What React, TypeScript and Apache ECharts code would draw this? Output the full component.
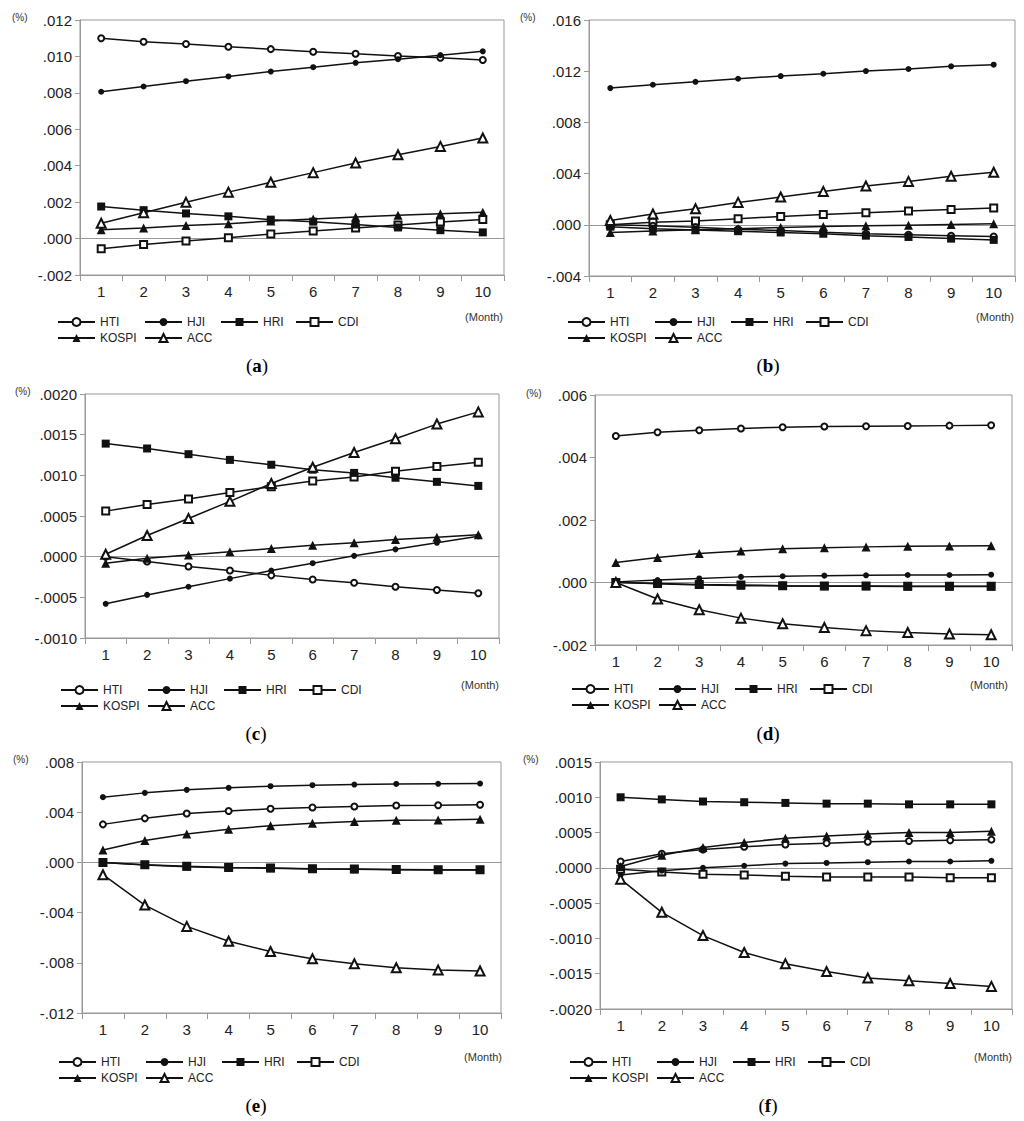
import React, { useEffect, useRef } from "react";
import * as echarts from "echarts";

const months = ["1", "2", "3", "4", "5", "6", "7", "8", "9", "10"];
const names = ["HTI", "HJI", "HRI", "CDI", "KOSPI", "ACC"];
const panelLetters = ["a", "b", "c", "d", "e", "f"];

// (a)
const aHTI = [0.011, 0.01081, 0.01068, 0.01053, 0.0104, 0.01026, 0.01015, 0.01002, 0.00993, 0.0098];
const aHJI = [0.00806, 0.00835, 0.00864, 0.0089, 0.00917, 0.00941, 0.00965, 0.00985, 0.01007, 0.01028];
const aHRI = [0.00176, 0.00156, 0.00138, 0.00122, 0.00104, 0.00093, 0.00077, 0.00061, 0.00046, 0.00034];
const aCDI = [-0.00056, -0.00033, -0.00014, 0.00004, 0.00025, 0.00042, 0.00058, 0.00074, 0.00091, 0.00105];
const aKOSPI = [0.00049, 0.00058, 0.00072, 0.00082, 0.00096, 0.00108, 0.00118, 0.00128, 0.00136, 0.00144];
const aACC = [0.00084, 0.00142, 0.00199, 0.00255, 0.00309, 0.00362, 0.00415, 0.0046, 0.00506, 0.00552];

// (b)
const bHTI = [0, -0.00008, -0.0002, -0.00035, -0.00045, -0.00058, -0.0007, -0.00078, -0.00085, -0.00092];
const bHJI = [0.01068, 0.01094, 0.01117, 0.01141, 0.01162, 0.0118, 0.01201, 0.01217, 0.01238, 0.01251];
const bHRI = [-0.00015, -0.0003, -0.0004, -0.0005, -0.0006, -0.0007, -0.00085, -0.00095, -0.00108, -0.00118];
const bCDI = [0, 0.0002, 0.0003, 0.00048, 0.00065, 0.0008, 0.00095, 0.00108, 0.0012, 0.00132];
const bKOSPI = [-0.0006, -0.00048, -0.00038, -0.0003, -0.00022, -0.00014, -0.00008, -0.00003, 0.00002, 0.00008];
const bACC = [0.00034, 0.00084, 0.00125, 0.00175, 0.00217, 0.00261, 0.00303, 0.00339, 0.00379, 0.0041];

// (c)
const cHTI = [0, -0.00006, -0.00012, -0.00017, -0.00023, -0.00028, -0.00032, -0.00037, -0.00041, -0.00045];
const cHJI = [-0.00058, -0.00047, -0.00037, -0.00027, -0.00017, -0.00008, 0.00001, 0.00009, 0.00017, 0.00025];
const cHRI = [0.00139, 0.00133, 0.00126, 0.00119, 0.00113, 0.00107, 0.00103, 0.00097, 0.00092, 0.00087];
const cCDI = [0.00056, 0.00064, 0.00071, 0.00079, 0.00086, 0.00093, 0.00098, 0.00105, 0.00111, 0.00116];
const cKOSPI = [-0.00008, -0.00002, 0.00002, 0.00006, 0.0001, 0.00014, 0.00017, 0.00021, 0.00024, 0.00027];
const cACC = [0.00003, 0.00026, 0.00047, 0.00068, 0.0009, 0.0011, 0.00128, 0.00145, 0.00163, 0.00178];

// (d)
const dHTI = [0.00469, 0.00481, 0.00487, 0.00493, 0.00497, 0.00499, 0.005, 0.00501, 0.00502, 0.00503];
const dHJI = [0.00002, 0.00008, 0.00013, 0.00018, 0.0002, 0.00022, 0.00023, 0.00024, 0.00024, 0.00025];
const dHRI = [0.00001, -0.00004, -0.00008, -0.0001, -0.00011, -0.00012, -0.00012, -0.00013, -0.00013, -0.00013];
const dCDI = [0, -0.00003, -0.00006, -0.00008, -0.0001, -0.00011, -0.00011, -0.00012, -0.00012, -0.00012];
const dKOSPI = [0.00064, 0.0008, 0.00093, 0.00101, 0.00108, 0.00111, 0.00114, 0.00116, 0.00117, 0.00118];
const dACC = [0, -0.00053, -0.00087, -0.00114, -0.00132, -0.00144, -0.00154, -0.0016, -0.00165, -0.00167];

// (e)
const eHTI = [0.00303, 0.00351, 0.0039, 0.00409, 0.00427, 0.00438, 0.00446, 0.00454, 0.00456, 0.00459];
const eHJI = [0.0052, 0.00554, 0.00578, 0.00594, 0.00607, 0.00615, 0.0062, 0.00625, 0.00626, 0.00628];
const eHRI = [0, -0.0002, -0.00034, -0.00042, -0.00047, -0.00052, -0.00055, -0.00058, -0.0006, -0.0006];
const eCDI = [0, -0.00018, -0.00031, -0.0004, -0.00045, -0.0005, -0.00053, -0.00056, -0.00058, -0.00059];
const eKOSPI = [0.00098, 0.00174, 0.00227, 0.00264, 0.00293, 0.00311, 0.00325, 0.00335, 0.00338, 0.00343];
const eACC = [-0.00098, -0.0034, -0.0051, -0.00628, -0.0071, -0.00768, -0.00807, -0.00839, -0.00858, -0.00865];

// (f)
const fHTI = [0.00009, 0.0002, 0.00026, 0.0003, 0.00033, 0.00035, 0.00037, 0.00038, 0.00039, 0.0004];
const fHJI = [-0.0001, -0.00004, 0, 0.00003, 0.00006, 0.00007, 0.00008, 0.00009, 0.00009, 0.0001];
const fHRI = [0.001, 0.00097, 0.00094, 0.00093, 0.00092, 0.00091, 0.00091, 0.0009, 0.0009, 0.0009];
const fCDI = [-0.00002, -0.00006, -0.00009, -0.0001, -0.00012, -0.00013, -0.00013, -0.00013, -0.00014, -0.00014];
const fKOSPI = [0.00002, 0.00018, 0.00029, 0.00036, 0.00042, 0.00045, 0.00048, 0.0005, 0.0005, 0.00052];
const fACC = [-0.00016, -0.00063, -0.00096, -0.0012, -0.00136, -0.00147, -0.00156, -0.0016, -0.00164, -0.00168];

const yMins = [-0.002, -0.004, -0.001, -0.002, -0.012, -0.002];
const yMaxs = [0.012, 0.016, 0.002, 0.006, 0.008, 0.0015];
const ySteps = [0.002, 0.004, 0.0005, 0.002, 0.004, 0.0005];
const yDigits = [3, 3, 4, 3, 3, 4];

const panelSeries = [
  [aHTI, aHJI, aHRI, aCDI, aKOSPI, aACC],
  [bHTI, bHJI, bHRI, bCDI, bKOSPI, bACC],
  [cHTI, cHJI, cHRI, cCDI, cKOSPI, cACC],
  [dHTI, dHJI, dHRI, dCDI, dKOSPI, dACC],
  [eHTI, eHJI, eHRI, eCDI, eKOSPI, eACC],
  [fHTI, fHJI, fHRI, fCDI, fKOSPI, fACC],
];

// marker per series: [symbol, size]
const marks: Record<string, [string, number]> = {
  HTI: ["emptyCircle", 6],
  HJI: ["circle", 6],
  HRI: ["rect", 8],
  CDI: ["emptyRect", 7],
  KOSPI: ["triangle", 9],
  ACC: ["emptyTriangle", 9],
};

// page layout of each panel
const layout = [
  { grid: [80, 20, 424, 255], legend: [57, 321], month: [503, 317], pct: [12, 17], cap: [257, 365] },
  { grid: [589, 20, 426, 256], legend: [567, 321], month: [1014, 317], pct: [520, 17], cap: [768, 365] },
  { grid: [85, 394, 414, 244], legend: [60, 689], month: [499, 685], pct: [15, 391], cap: [256, 733] },
  { grid: [595, 395, 417, 250], legend: [571, 688], month: [1008, 685], pct: [526, 393], cap: [768, 733] },
  { grid: [82, 762, 419, 251], legend: [58, 1061], month: [502, 1057], pct: [13, 759], cap: [256, 1105] },
  { grid: [600, 762, 412, 247], legend: [569, 1061], month: [1012, 1057], pct: [523, 759], cap: [768, 1105] },
];
const legendCols = [0, 87, 163, 238, 0, 87];
const legendRows = [0, 0, 0, 0, 16, 16];

const sans = "'Liberation Sans', Arial, sans-serif";
const ink = "#111";
const axisGray = "#999";

const fmt = (v: number, d: number) => v.toFixed(d).replace(/^(-?)0\./, "$1.");

const App: React.FC = () => {
  const chartRef = useRef<HTMLDivElement>(null);

  useEffect(() => {
    const chart = echarts.init(chartRef.current as HTMLDivElement, undefined, { renderer: "svg" });

    const grids: any[] = [];
    const xAxes: any[] = [];
    const yAxes: any[] = [];
    const series: any[] = [];
    const legends: any[] = [];
    const graphics: any[] = [];

    layout.forEach((l, p) => {
      const [left, top, width, height] = l.grid;
      grids.push({ left, top, width, height, show: true, borderColor: axisGray, borderWidth: 1 });

      xAxes.push({
        type: "category",
        gridIndex: p,
        data: months,
        boundaryGap: true,
        axisLine: { onZero: false, lineStyle: { color: axisGray } },
        axisTick: { show: true, length: 6, interval: 0, lineStyle: { color: axisGray } },
        axisLabel: { color: "#222", fontSize: 15, fontFamily: sans, margin: 9, interval: 0 },
        splitLine: { show: false },
      });
      // zero line
      xAxes.push({
        type: "category",
        gridIndex: p,
        data: months,
        boundaryGap: true,
        axisLine: { onZero: true, lineStyle: { color: axisGray } },
        axisTick: { show: false },
        axisLabel: { show: false },
        splitLine: { show: false },
      });

      yAxes.push({
        type: "value",
        gridIndex: p,
        min: yMins[p],
        max: yMaxs[p],
        interval: ySteps[p],
        axisLine: { show: true, lineStyle: { color: axisGray } },
        axisTick: { show: true, length: 5, lineStyle: { color: axisGray } },
        splitLine: { show: false },
        axisLabel: {
          color: "#222",
          fontSize: 15,
          fontFamily: sans,
          margin: 8,
          formatter: (v: number) => fmt(v, yDigits[p]),
        },
      });

      names.forEach((name, i) => {
        series.push({
          type: "line",
          name,
          xAxisIndex: p * 2,
          yAxisIndex: p,
          data: panelSeries[p][i],
          symbol: marks[name][0],
          symbolSize: marks[name][1],
          showAllSymbol: true,
          lineStyle: { color: ink, width: 1.5 },
          itemStyle: { color: ink, borderWidth: 1.2 },
          z: name === "CDI" ? 1 : 2,
          silent: true,
        });

        legends.push({
          data: [name],
          left: l.legend[0] + legendCols[i],
          top: l.legend[1] + legendRows[i] - 5,
          itemWidth: 37,
          itemHeight: 10,
          padding: 0,
          selectedMode: false,
          textStyle: { fontSize: 12, color: "#222", fontFamily: sans },
        });
      });

      graphics.push(
        {
          type: "text",
          x: l.pct[0],
          y: l.pct[1],
          style: { text: "(%)", fontSize: 10, fontFamily: sans, fill: "#333", verticalAlign: "middle" },
        },
        {
          type: "text",
          x: l.month[0],
          y: l.month[1],
          style: { text: "(Month)", fontSize: 11, fontFamily: sans, fill: "#333", align: "right", verticalAlign: "middle" },
        },
        {
          type: "text",
          x: l.cap[0],
          y: l.cap[1],
          style: {
            text: `{p|(}{b|${panelLetters[p]}}{p|)}`,
            align: "center",
            verticalAlign: "middle",
            rich: {
              p: { fontSize: 19, fontFamily: "'Liberation Serif', serif", fill: "#000" },
              b: { fontSize: 19, fontFamily: "'Liberation Serif', serif", fontWeight: "bold", fill: "#000" },
            },
          },
        }
      );
    });

    const option: echarts.EChartsOption = {
      animation: false,
      backgroundColor: "#fff",
      grid: grids,
      xAxis: xAxes,
      yAxis: yAxes,
      legend: legends,
      series,
      graphic: graphics,
    };

    chart.setOption(option);

    return () => {
      chart.dispose();
    };
  }, []);

  return (
    <div
      ref={chartRef}
      style={{ position: "absolute", left: 0, top: 0, width: "1024px", height: "1121px", background: "#fff" }}
    />
  );
};

export default App;
